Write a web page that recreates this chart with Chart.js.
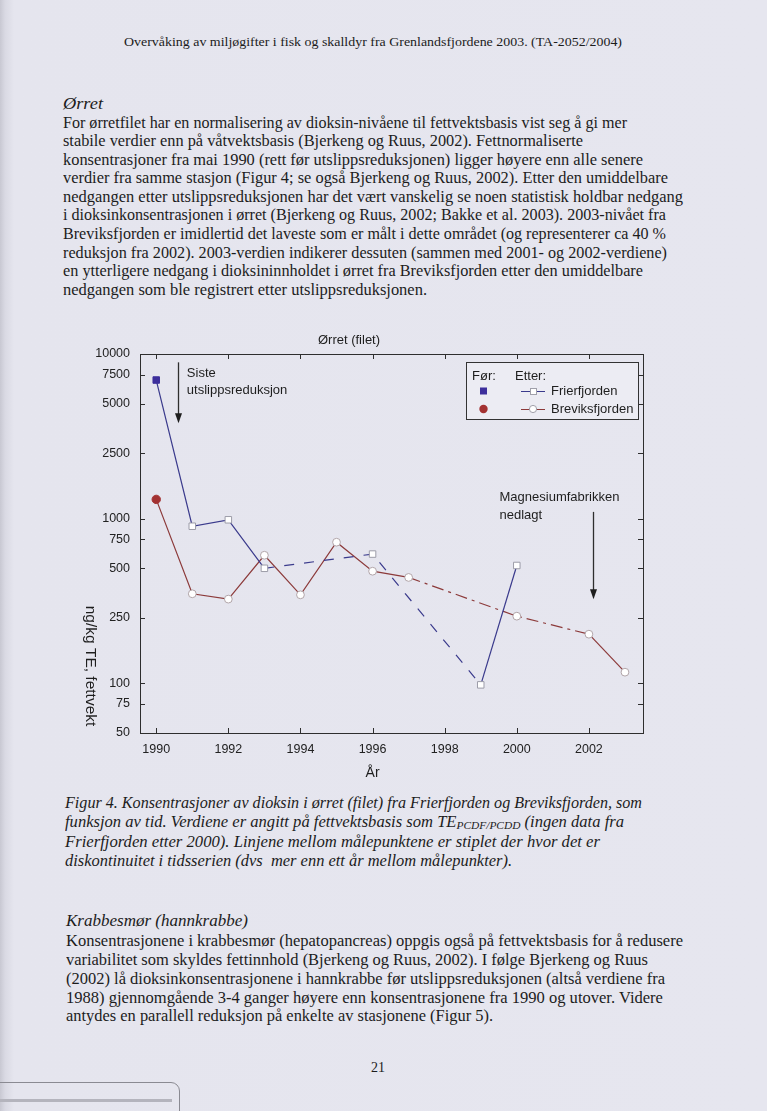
<!DOCTYPE html>
<html><head><meta charset="utf-8">
<script src="https://cdn.jsdelivr.net/npm/chart.js@4.4.1/dist/chart.umd.min.js"></script>
<style>
html,body{margin:0;padding:0}
body{width:767px;height:1111px;position:relative;overflow:hidden;
 background:linear-gradient(to right,#c8c8d2 0,#d9d9e3 5px,#e5e5ee 14px,#e6e6ef 100%);
 font-family:"Liberation Serif","Times New Roman",serif;color:#1c1c1c}
.ln{position:absolute;white-space:nowrap;font-size:16px;line-height:18px;transform-origin:0 50%}
.it{font-style:italic}
.sub{font-size:11px;vertical-align:-2px}
#chartWrap{position:absolute;left:0;top:320px;width:767px;height:470px}
#paper{position:absolute;left:-4px;top:1082px;width:182px;height:40px;border:1px solid #8a8a92;border-radius:0 9px 0 0}
#paperbar{position:absolute;left:0;top:1099px;width:172px;height:3px;background:#b4b4bd}
</style></head><body>
<div id="text"></div>
<div id="chartWrap"><canvas id="c" width="767" height="470"></canvas></div>
<div id="paper"></div><div id="paperbar"></div>
<script>
// ---- chart data ----
const fYears  = [1990, 1991, 1992, 1993, 1996, 1999, 2000];
const fValues = [6950, 900, 985, 500, 610, 98, 520];
const bYears  = [1990, 1991, 1992, 1993, 1994, 1995, 1996, 1997, 2000, 2002, 2003];
const bValues = [1310, 350, 325, 600, 345, 720, 480, 440, 256, 199, 117];
const beforeCount = 1; // first point of each series: "Før" (mai 1990)
const yTickValues = [50, 75, 100, 250, 500, 750, 1000, 2500, 5000, 7500, 10000];
const xTickYears  = [1990, 1992, 1994, 1996, 1998, 2000, 2002];
const seriesNames = ['Frierfjorden', 'Breviksfjorden'];

// ---- page text ----
const lines = [
 ['Overvåking av miljøgifter i fisk og skalldyr fra Grenlandsfjordene 2003. (TA-2052/2004)',124,40,622,'',13.5],
 ['Ørret',63,104,103,'it',16],
 ['For ørretfilet har en normalisering av dioksin-nivåene til fettvektsbasis vist seg å gi mer',63,122.5,627,'',16],
 ['stabile verdier enn på våtvektsbasis (Bjerkeng og Ruus, 2002). Fettnormaliserte',63,141,583,'',16],
 ['konsentrasjoner fra mai 1990 (rett før utslippsreduksjonen) ligger høyere enn alle senere',63,159.5,643,'',16],
 ['verdier fra samme stasjon (Figur 4; se også Bjerkeng og Ruus, 2002). Etter den umiddelbare',63,178,668,'',16],
 ['nedgangen etter utslippsreduksjonen har det vært vanskelig se noen statistisk holdbar nedgang',63,196.5,683,'',16],
 ['i dioksinkonsentrasjonen i ørret (Bjerkeng og Ruus, 2002; Bakke et al. 2003). 2003-nivået fra',63,215,666,'',16],
 ['Breviksfjorden er imidlertid det laveste som er målt i dette området (og representerer ca 40 %',63,234,666,'',16],
 ['reduksjon fra 2002). 2003-verdien indikerer dessuten (sammen med 2001- og 2002-verdiene)',63,252.5,667,'',16],
 ['en ytterligere nedgang i dioksininnholdet i ørret fra Breviksfjorden etter den umiddelbare',63,271,643,'',16],
 ['nedgangen som ble registrert etter utslippsreduksjonen.',63,290,427,'',16],
 ['Figur 4. Konsentrasjoner av dioksin i ørret (filet) fra Frierfjorden og Breviksfjorden, som',65,803,642,'it',16],
 ['funksjon av tid. Verdiene er angitt på fettvektsbasis som TE<span class="sub">PCDF/PCDD</span> (ingen data fra',65,822,624,'it',16],
 ['Frierfjorden etter 2000). Linjene mellom målepunktene er stiplet der hvor det er',65,842,600,'it',16],
 ['diskontinuitet i tidsserien (dvs&nbsp; mer enn ett år mellom målepunkter).',65,861,512,'it',16],
 ['Krabbesmør (hannkrabbe)',66,921,248,'it',16],
 ['Konsentrasjonene i krabbesmør (hepatopancreas) oppgis også på fettvektsbasis for å redusere',66,940.5,683,'',16],
 ['variabilitet som skyldes fettinnhold (Bjerkeng og Ruus, 2002). I følge Bjerkeng og Ruus',66,959.5,648,'',16],
 ['(2002) lå dioksinkonsentrasjonene i hannkrabbe før utslippsreduksjonen (altså verdiene fra',66,978.5,665,'',16],
 ['1988) gjennomgående 3-4 ganger høyere enn konsentrasjonene fra 1990 og utover. Videre',66,997.5,663,'',16],
 ['antydes en parallell reduksjon på enkelte av stasjonene (Figur 5).',66,1016,493,'',16],
 ['21',371,1067,385,'',14]
];
const holder = document.getElementById('text');
lines.forEach(([t,x,yc,r,cls,fs])=>{
  const d=document.createElement('div');
  d.className='ln '+cls; d.innerHTML=t;
  d.style.fontSize=fs+'px'; d.style.left=x+'px';
  d.style.top=(yc-8.8*fs/16)+'px';
  holder.appendChild(d);
  const w=d.getBoundingClientRect().width;
  d.style.transform='scaleX('+((r-x)/w).toFixed(4)+')';
});

// ---- chart ----
const pts=(xs,ys)=>xs.map((x,i)=>({x,y:ys[i]}));
const dashIfGap=dash=>c=>(c.p1.parsed.x-c.p0.parsed.x>1?dash:undefined);
const SANS='"Liberation Sans", Arial, sans-serif';
const fLine='#3a3a8c', bLine='#8c3a3a', fFill='#3d2f9c', bFill='#a33232';

const decor={
 id:'decor',
 afterDraw(chart){
  const {ctx,chartArea:a,scales:{x,y}}=chart;
  const L=(x1,y1,x2,y2)=>{ctx.beginPath();ctx.moveTo(x1,y1);ctx.lineTo(x2,y2);ctx.stroke();};
  ctx.save();
  ctx.strokeStyle='#2e2e2e';ctx.lineWidth=1;
  ctx.strokeRect(Math.round(a.left)+0.5,Math.round(a.top)+0.5,Math.round(a.right-a.left),Math.round(a.bottom-a.top));
  x.ticks.forEach(t=>{const p=Math.round(x.getPixelForValue(t.value))+0.5;L(p,a.bottom,p,a.bottom-5);L(p,a.top,p,a.top+5);});
  y.ticks.forEach(t=>{const p=Math.round(y.getPixelForValue(t.value))+0.5;L(a.left,p,a.left+5,p);L(a.right,p,a.right-5,p);});
  ctx.fillStyle='#1e1e1e';
  ctx.font='13px '+SANS;ctx.textBaseline='middle';ctx.textAlign='center';
  ctx.fillText('Ørret (filet)',a.left+209,a.top-14);
  ctx.font='14px '+SANS;
  ctx.fillText('År',x.getPixelForValue(1996),a.bottom+40);
  ctx.save();ctx.translate(a.left-50,a.bottom-67);ctx.rotate(Math.PI/2);
  ctx.font='15.5px '+SANS;ctx.fillText('ng/kg TE, fettvekt',0,0);ctx.restore();
  // annotation arrows
  const arrow=(xv,y1v,y2v)=>{const px=Math.round(x.getPixelForValue(xv))+0.5,p1=y.getPixelForValue(y1v),p2=y.getPixelForValue(y2v);
    ctx.lineWidth=1.3;L(px,p1,px,p2-8);ctx.beginPath();ctx.moveTo(px-3.5,p2-10);ctx.lineTo(px+3.5,p2-10);ctx.lineTo(px,p2);ctx.closePath();ctx.fill();ctx.lineWidth=1;};
  arrow(1990.6,8900,3800);
  arrow(2002.1,1100,324);
  ctx.font='13px '+SANS;ctx.textAlign='left';
  const ax=x.getPixelForValue(1990.6);
  ctx.fillText('Siste',ax+9,y.getPixelForValue(7570));
  ctx.fillText('utslippsreduksjon',ax+9,y.getPixelForValue(6050));
  const mx=x.getPixelForValue(2002.1);
  ctx.fillText('Magnesiumfabrikken',mx-93,y.getPixelForValue(1355));
  ctx.fillText('nedlagt',mx-93,y.getPixelForValue(1053));
  // legend
  const lx=a.right-177, ly=a.top+8, lw=172, lh=57;
  ctx.fillStyle='#ececf3';ctx.fillRect(lx,ly,lw,lh);
  ctx.strokeStyle='#333';ctx.strokeRect(lx+0.5,ly+0.5,lw,lh);
  ctx.fillStyle='#1e1e1e';
  ctx.fillText('Før:',lx+6,ly+14);ctx.fillText('Etter:',lx+49,ly+14);
  const rows=[[seriesNames[0],fLine,fFill,'rect'],[seriesNames[1],bLine,bFill,'circle']];
  rows.forEach(([name,lc,fc,st],i)=>{
    const ry=ly+29+i*18;
    ctx.fillStyle=fc;
    if(st==='rect'){ctx.fillRect(lx+14,ry-3.5,7,7);}else{ctx.beginPath();ctx.arc(lx+17.5,ry,4.2,0,7);ctx.fill();}
    ctx.strokeStyle=lc;ctx.lineWidth=1;L(lx+55,ry+0.5,lx+79,ry+0.5);
    ctx.fillStyle='#fff';ctx.strokeStyle='#a0a0aa';
    if(st==='rect'){ctx.fillRect(lx+64,ry-3,6,6);ctx.strokeRect(lx+64.5,ry-2.5,6,6);}
    else{ctx.beginPath();ctx.arc(lx+67,ry,3.6,0,7);ctx.fill();ctx.stroke();}
    ctx.fillStyle='#1e1e1e';ctx.fillText(name,lx+85,ry);
  });
  ctx.restore();
 }
};

new Chart(document.getElementById('c'),{
 type:'line',
 data:{datasets:[
  {label:seriesNames[0],data:pts(fYears,fValues),borderColor:fLine,borderWidth:1.2,tension:0,fill:false,
   pointStyle:'rect',pointRadius:4.6,pointBorderWidth:1,
   pointBackgroundColor:c=>c.dataIndex<beforeCount?fFill:'#ffffff',
   pointBorderColor:c=>c.dataIndex<beforeCount?fFill:'#9c9ca8',
   segment:{borderDash:dashIfGap([10,10])}},
  {label:seriesNames[1],data:pts(bYears,bValues),borderColor:bLine,borderWidth:1.2,tension:0,fill:false,
   pointStyle:'circle',pointRadius:c=>c.dataIndex<beforeCount?4.2:3.9,pointBorderWidth:1,
   pointBackgroundColor:c=>c.dataIndex<beforeCount?bFill:'#ffffff',
   pointBorderColor:c=>c.dataIndex<beforeCount?bFill:'#b0a4a8',
   segment:{borderDash:dashIfGap([12,5,3,5])}}
 ]},
 options:{
  responsive:false,animation:false,
  layout:{padding:{top:34,right:124,left:0,bottom:0}},
  plugins:{legend:{display:false},tooltip:{enabled:false}},
  scales:{
   x:{type:'linear',min:1989.55,max:2003.5,
     afterBuildTicks:s=>{s.ticks=xTickYears.map(v=>({value:v}));},
     afterFit:s=>{s.height=57;},
     grid:{display:false,drawTicks:false},border:{display:false},
     ticks:{font:{family:SANS,size:12.5},color:'#222',padding:9,maxRotation:0,autoSkip:false,callback:v=>String(v)}},
   y:{type:'logarithmic',min:50,max:10000,
     afterBuildTicks:s=>{s.ticks=yTickValues.map(v=>({value:v}));},
     afterFit:s=>{s.width=140;},
     grid:{display:false,drawTicks:false},border:{display:false},
     ticks:{font:{family:SANS,size:12.5},color:'#222',padding:10,autoSkip:false,callback:v=>String(v)}}
  }
 },
 plugins:[decor]
});
</script>
</body></html>
